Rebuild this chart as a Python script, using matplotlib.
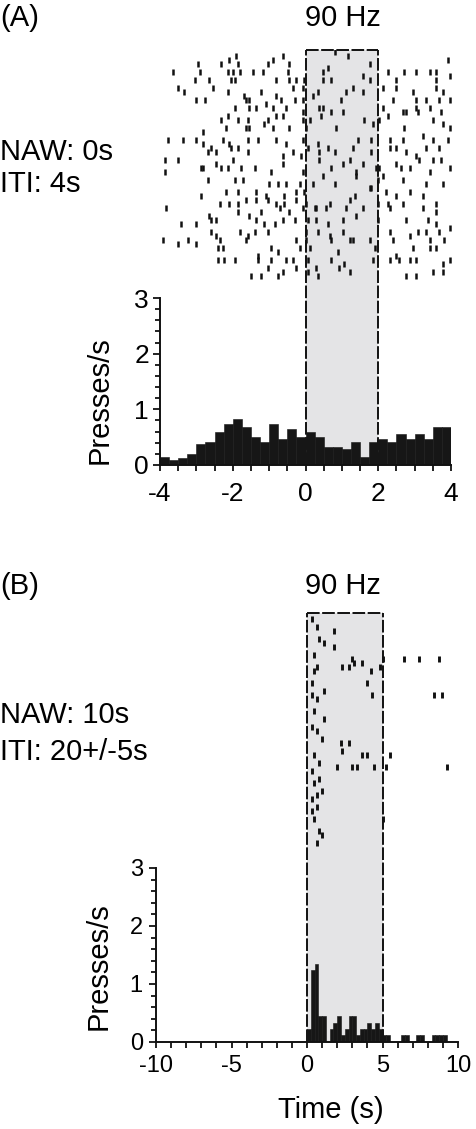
import numpy as np
import matplotlib
matplotlib.use('Agg')
import matplotlib.pyplot as plt
from matplotlib.patches import Rectangle
from matplotlib.lines import Line2D
from matplotlib.transforms import blended_transform_factory
from matplotlib.ticker import MultipleLocator

plt.rcParams['font.family'] = ['Liberation Sans', 'DejaVu Sans']
plt.rcParams['axes.unicode_minus'] = False

# ---- panel A: NAW 0s, ITI 4s (0.25 s bins, -4..4 s) ----
hist_a_left = np.arange(-4, 4, 0.25)
hist_a = [0.15, 0.09, 0.13, 0.20, 0.38, 0.41, 0.59, 0.73,
          0.82, 0.68, 0.51, 0.41, 0.73, 0.46, 0.64, 0.51,
          0.59, 0.51, 0.33, 0.33, 0.28, 0.41, 0.14, 0.41,
          0.46, 0.41, 0.55, 0.46, 0.55, 0.46, 0.69, 0.69]

# lever presses per trial (trial number, press times in s)
raster_a_rows = [3, 4, 5, 6, 7, 8, 9, 10, 12, 13, 14, 15, 16, 17, 18, 19, 20, 21, 22, 23,
                 24, 25, 26, 27, 28, 29, 30, 31, 32, 33, 34, 35, 36, 37, 38, 39, 40, 41, 42,
                 43, 44, 45, 46, 47, 48, 49, 50, 51, 52, 53, 54, 55, 56, 57, 58, 59]
raster_a_spikes = [
    [0.80],
    [-1.90, -0.62, 1.16],
    [3.91, -2.09, -0.90],
    [1.76, -2.96, -2.32, -1.86, -1.03, -0.44],
    [0.61],
    [-3.64, -2.91, -2.13, -2.00, -1.81, -1.45, -1.17, -0.49, 0.48, 2.72, 3.04, 3.41, 3.59, 2.26],
    [1.58, 3.96],
    [-3.05, -2.64, -2.04, -1.95, -0.81, -0.44, -0.26, -0.03, 0.48, 0.71, 1.76, 2.49, 3.59],
    [-3.51, -2.55, -0.35, -0.07, 1.30, 2.12, 2.49, 3.59],
    [-3.33, -2.13, -1.22, 0.34, 1.12, 1.58, 2.95, 3.77],
    [-1.68, -0.81, 0.20],
    [-3.00, -2.77, -1.63, -1.54, -0.67, -0.30, -0.07, 0.98, 2.40, 3.04, 3.32, 3.68, 3.96],
    [-1.08],
    [0.48, -1.95, -1.54, -1.36, -0.90, -0.53, 0.38, 2.12, 3.04, 3.41],
    [-0.07, 0.71, 2.77, 3.73, 1.03, 2.67, 3.09],
    [-2.13, -0.81, -0.62, 0.43, 2.26],
    [-2.32, -1.86, -1.58, -1.03, -0.07, 0.11, 1.62, 2.03, 3.50],
    [3.77, -1.13, 1.85],
    [-2.18, -1.63, -1.54, -0.90, -0.44, 0.02, 0.84, 2.72, 3.96],
    [-2.82],
    [3.22],
    [-3.78, -3.37, -3.00, -2.27, -1.58, -1.31, -0.81, -0.07, 1.44, 1.80, 2.31, 2.67, 3.50, 3.91],
    [-2.82, -2.09, -0.53, 0.34],
    [-2.59, -1.86, 0.61, -2.04, 0.06, 1.30, 2.31, 2.49, 3.32, 3.68],
    [-2.68, -2.45, -1.58, -0.35, 0.38, 0.80, 1.80, 2.77],
    [-0.62, 3.04, -0.12],
    [-3.87, -3.51, -2.00, 0.38, 1.21, 3.13, 3.50, 3.73],
    [-2.45, -0.62, 1.58, 2.49, 1.03],
    [-2.82, 2.03, -2.87, -2.32, -2.13, -1.77, -1.40, 0.71, 1.94, 2.63, 2.86, 3.96],
    [-3.87, -0.94, -0.07, 1.39, 3.41],
    [0.48, 1.39, 2.12],
    [-2.68, -1.95, -1.72, 1.99, 2.67],
    [-0.99, -0.76, -0.53, -0.16, 0.20, 0.80, 3.32, 3.77],
    [1.76, 1.80],
    [-2.18, -1.86, -1.36, -0.26, -0.03, 2.22, 2.86],
    [-2.87, -1.08, -0.58, 1.35, 2.49, 3.22],
    [-1.63, -1.36, -1.03, -0.26, 1.21],
    [-2.36, -2.09, -1.86, -0.81, -0.58, 0.02, 0.66, 1.99, 2.26, 2.67, 3.59],
    [-3.83, 0.25, 3.22, -0.71, -0.07, 0.29, 0.57, 1.12, 1.58, 2.31],
    [-1.86, -1.22, -0.44, 3.59],
    [-2.64, -1.54, 1.39],
    [-2.59, -2.45, -1.36, -0.62, -0.30, 0.06, 0.29, 1.03, 1.99, 2.77, 3.36],
    [-3.42, -3.00, -1.13, -0.85, 0.61, 3.59],
    [3.96],
    [-2.59, -1.81, -1.40, -1.03, 0.02, 0.34, 1.03, 2.31, 3.09, 3.32, 3.68],
    [-2.45, -1.58, 0.66, 2.86],
    [-3.92, -3.23, -2.36, -1.63, -0.26, 0.02, 0.71, 1.21, 1.30, 1.76, 2.40, 3.41, 3.82],
    [-3.51, -3.00],
    [-2.41, -2.27, -0.94, -0.16, 0.11, 1.90, 2.95, 3.41, 3.59],
    [-0.76, 0.89],
    [-1.31, 2.49],
    [-2.41, -2.23, -1.95, -1.31, -0.94, -0.53, -0.35, 0.06, 0.71, 1.85, 2.31, 2.58, 2.86, 3.04, 3.96],
    [1.07, 3.77],
    [0.29, -1.03, -0.26, 0.93],
    [-0.62, 0.06, 1.21, 3.50, 3.77],
    [-1.49, -1.22, -0.76, 0.34, 2.77, 3.04],
]

# ---- panel B: NAW 10s, ITI 20+/-5s (0.25 s bins, -10..10 s) ----
hist_b_left = np.arange(-10, 10, 0.25)
hist_b = [0.0] * 40 + [
    0.22, 1.25, 1.35, 0.45, 0.45, 0.00, 0.22, 0.33,
    0.45, 0.12, 0.22, 0.45, 0.45, 0.12, 0.22, 0.22,
    0.33, 0.22, 0.33, 0.22, 0.12, 0.12, 0.00, 0.00,
    0.00, 0.12, 0.12, 0.00, 0.00, 0.12, 0.12, 0.00,
    0.00, 0.12, 0.12, 0.12, 0.12, 0.00, 0.00, 0.00]

raster_b_rows = [1, 3, 4, 6, 7, 8, 10, 11, 12, 13, 14, 17, 19, 20, 21, 24, 26, 28, 29, 31,
                 32, 34, 35, 37, 38, 39, 41, 42, 44, 45, 46, 48, 49, 51, 54, 55, 57]
raster_b_spikes = [
    [0.31], [0.66], [1.81], [0.82], [1.10], [1.81], [0.49],
    [2.98, 5.05, 6.45, 7.44, 8.76],
    [3.13, 3.64],
    [0.64, 2.30, 2.80, 4.86],
    [0.49, 4.24],
    [0.33, 3.97],
    [1.15],
    [0.33, 4.28, 8.43, 8.92],
    [0.64], [0.49], [1.15], [0.33], [0.64], [0.97],
    [2.25, 2.80],
    [2.30],
    [0.49, 3.64, 3.95, 5.52],
    [0.82],
    [1.99, 2.96, 3.31, 4.46, 5.23, 9.25],
    [0.33], [0.82], [0.49], [0.97], [0.64], [0.33], [0.64], [0.33],
    [0.49, 5.06],
    [0.82], [0.97], [0.64],
]

stim_a = (0, 2)
stim_b = (0, 5)

W, H = 477, 1129
fig = plt.figure(figsize=(W / 100, H / 100), dpi=100)


def px_axes(x0, y0, x1, y1):
    ax = fig.add_axes([x0 / W, 1 - y1 / H, (x1 - x0) / W, (y1 - y0) / H])
    ax.patch.set_visible(False)
    return ax


def raster(ax, rows, spikes, xlim, ylim, ms, mew):
    for r, s in zip(rows, spikes):
        ax.plot(s, [r] * len(s), ls='none', marker='|', color='#111111',
                markersize=ms, markeredgewidth=mew)
    ax.set_xlim(*xlim)
    ax.set_ylim(*ylim)
    ax.axis('off')


def histo(ax, left, vals, xlim, xmaj, xmin, labsize, xpad, ypad, lab_x, lab_y):
    ax.bar(left, vals, width=0.25, align='edge', color='#161616',
           edgecolor='#161616', linewidth=0.4)
    ax.set_xlim(*xlim)
    ax.set_ylim(0, 3)
    ax.spines['top'].set_visible(False)
    ax.spines['right'].set_visible(False)
    for s in ('left', 'bottom'):
        ax.spines[s].set_linewidth(1.4)
        ax.spines[s].set_color('#111111')
    ax.xaxis.set_major_locator(MultipleLocator(xmaj))
    ax.xaxis.set_minor_locator(MultipleLocator(xmin))
    ax.yaxis.set_major_locator(MultipleLocator(1))
    ax.yaxis.set_minor_locator(MultipleLocator(0.2))
    ax.tick_params(axis='both', which='both', direction='out', width=1.3, color='#111111')
    ax.tick_params(axis='x', which='both', length=4.5, pad=xpad, labelsize=labsize)
    ax.tick_params(axis='y', which='major', length=5, pad=ypad, labelsize=labsize)
    ax.tick_params(axis='y', which='minor', length=3.5)
    ax.set_ylabel('Presses/s', fontsize=21)
    ax.yaxis.set_label_coords(lab_x, lab_y)


def stim_box(ax_ref, x0, x1, ytop_px, ybot_px):
    tr = blended_transform_factory(ax_ref.transData, fig.transFigure)
    yt, yb = 1 - ytop_px / H, 1 - ybot_px / H
    fig.add_artist(Rectangle((x0, yb), x1 - x0, yt - yb, transform=tr,
                             facecolor='#e4e4e6', edgecolor='none', zorder=-2))
    dash = (0, (6.5, 1.3))
    for xs, ys in (([x0, x0], [yb, yt]), ([x1, x1], [yb, yt]), ([x0, x1], [yt, yt])):
        fig.add_artist(Line2D(xs, ys, transform=tr, color='#111111', lw=1.4,
                              linestyle=dash, zorder=-1))


# panel A
ax_ra = px_axes(160, 50, 451, 282)
raster(ax_ra, raster_a_rows, raster_a_spikes, (-4, 4), (60.5, 2.5), 4.0, 1.8)
ax_ha = px_axes(160, 298, 451, 465)
histo(ax_ha, hist_a_left, hist_a, (-4, 4), 2, 0.5, 19, 8, 3, -0.16, 0.39)
stim_box(ax_ha, stim_a[0], stim_a[1], 50, 465)

# panel B
ax_rb = px_axes(156, 613, 458, 847)
raster(ax_rb, raster_b_rows, raster_b_spikes, (-10, 10), (58, -0.5), 4.5, 2.1)
ax_hb = px_axes(156, 868, 458, 1042)
histo(ax_hb, hist_b_left, hist_b, (-10, 10), 5, 1, 17, 5, 4.5, -0.142, 0.437)
stim_box(ax_hb, stim_b[0], stim_b[1], 613, 1042)

# texts
fs = 21
fig.text(0 / W, 1 - 18 / H, '(A)', fontsize=fs, ha='left', va='center')
fig.text(343 / W, 1 - 18 / H, '90 Hz', fontsize=fs, ha='center', va='center')
fig.text(0 / W, 1 - 152 / H, 'NAW: 0s', fontsize=fs, ha='left', va='center')
fig.text(0 / W, 1 - 184 / H, 'ITI: 4s', fontsize=fs, ha='left', va='center')
fig.text(0 / W, 1 - 586 / H, '(B)', fontsize=fs, ha='left', va='center')
fig.text(343 / W, 1 - 586 / H, '90 Hz', fontsize=fs, ha='center', va='center')
fig.text(0 / W, 1 - 715 / H, 'NAW: 10s', fontsize=fs, ha='left', va='center')
fig.text(0 / W, 1 - 752 / H, 'ITI: 20+/-5s', fontsize=fs, ha='left', va='center')
fig.text(331 / W, 1 - 1110 / H, 'Time (s)', fontsize=fs, ha='center', va='center')

fig.savefig('out.png', dpi=100)
